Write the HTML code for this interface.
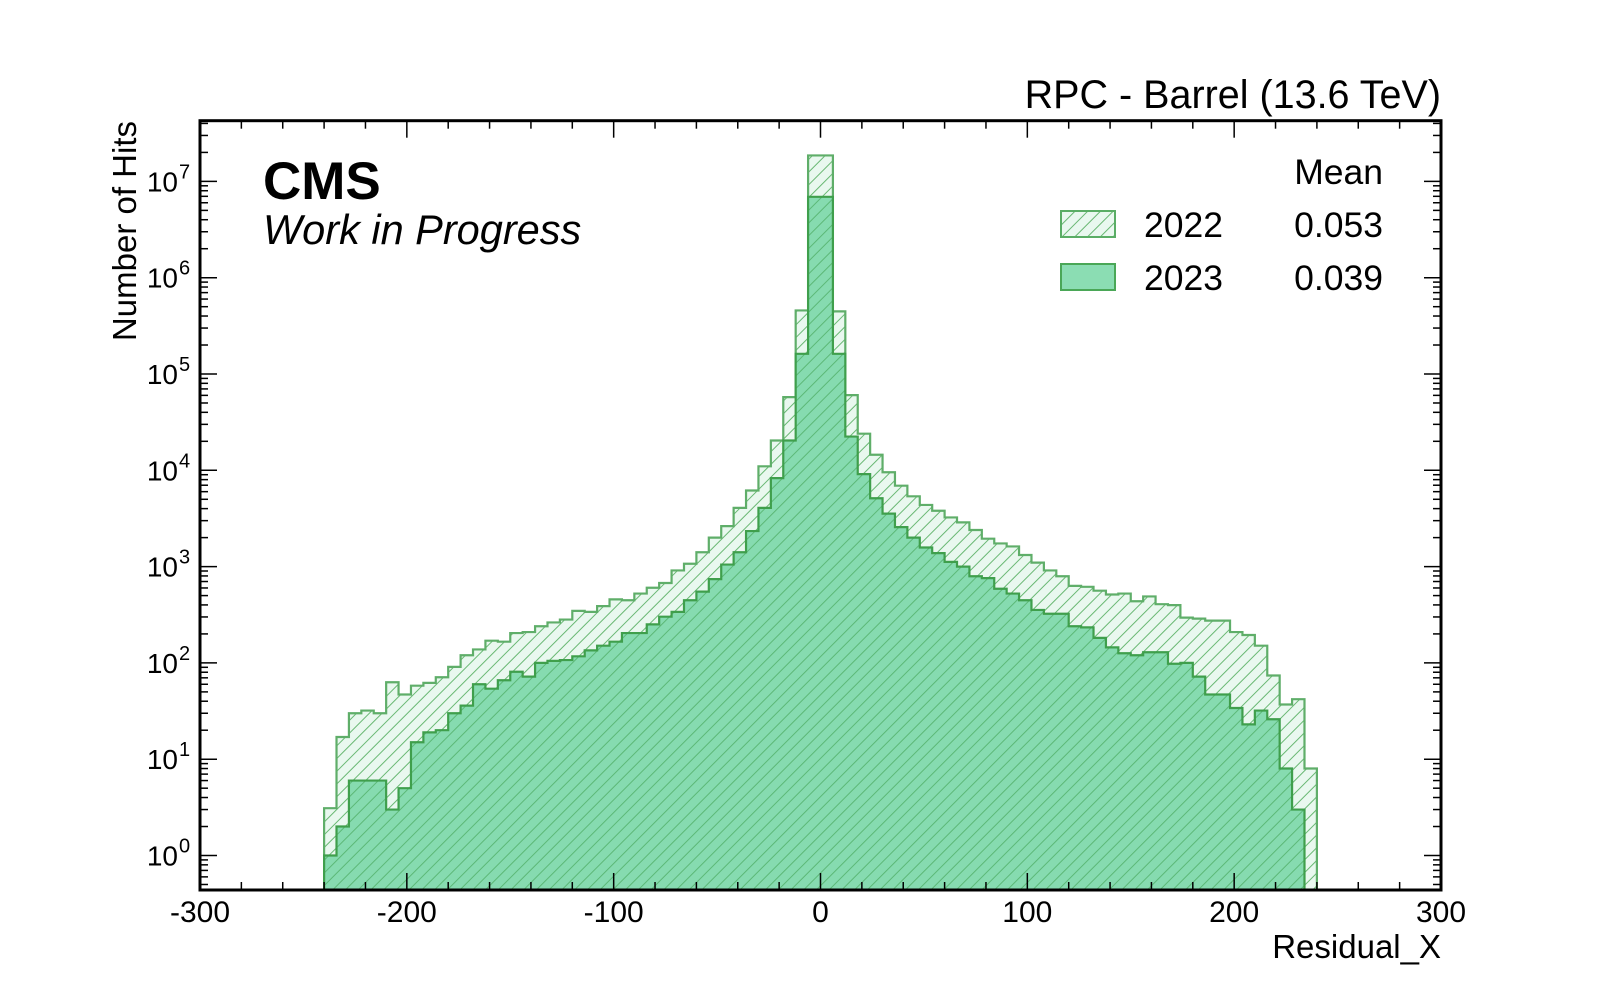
<!DOCTYPE html>
<html><head><meta charset="utf-8"><style>
html,body{margin:0;padding:0;background:#fff;}
svg{display:block;font-family:"Liberation Sans",Arial,sans-serif;}
</style></head><body>
<svg id="chart" width="1600" height="1000" viewBox="0 0 1600 1000" xmlns="http://www.w3.org/2000/svg">
<defs>
<pattern id="hatchLight" patternUnits="userSpaceOnUse" width="9" height="9" patternTransform="rotate(45)">
<rect width="9" height="9" fill="#e9f8ef"/><line x1="0" y1="0" x2="0" y2="9" stroke="#69b873" stroke-width="2"/></pattern>
<pattern id="hatchDark" patternUnits="userSpaceOnUse" width="9" height="9" patternTransform="rotate(45)">
<rect width="9" height="9" fill="#86dbb0"/><line x1="0" y1="0" x2="0" y2="9" stroke="#5cb877" stroke-width="2"/></pattern>
</defs>
<g id="marks"></g>
<g id="axes"></g>
<text x="1441" y="108" text-anchor="end" font-size="39.5">RPC - Barrel (13.6 TeV)</text>
<text x="263" y="199" font-size="53" font-weight="bold">CMS</text>
<text x="263" y="244" font-size="41.5" font-style="italic">Work in Progress</text>
<text transform="translate(136,121) rotate(-90)" text-anchor="end" font-size="33">Number of Hits</text>
<text x="1441" y="958" text-anchor="end" font-size="33">Residual_X</text>
<g font-size="35.5">
<text x="1383" y="184" text-anchor="end">Mean</text>
<rect x="1061" y="211" width="54" height="26" fill="url(#hatchLight)" stroke="#5aad65" stroke-width="2"/>
<text x="1144" y="237">2022</text>
<text x="1383" y="237" text-anchor="end">0.053</text>
<rect x="1061" y="264" width="54" height="26" fill="#8bddb3" stroke="#4aa757" stroke-width="2"/>
<text x="1144" y="290">2023</text>
<text x="1383" y="290" text-anchor="end">0.039</text>
</g>
</svg>
<script>
const binEdgesStart = -240;
const binWidth = 6;
const counts2022 = [3.1,17,30,32,30,63,47,58,62,71,91,120,138,170,166,204,209,240,263,282,347,339,389,457,447,525,603,676,912,1070,1410,2000,2630,4070,6170,11000,20400,57500,457000,18600000,18600000,447000,60300,24000,14500,9550,6920,5370,4370,3800,3240,2880,2400,1950,1740,1620,1320,1100,912,794,631,617,562,513,525,437,490,407,398,295,288,275,275,209,195,151,74,37,42,8];
const counts2023 = [1,2,6,6,6,3,5,15,19,20,30,36,60,54,66,81,72,100,105,107,117,135,151,166,204,204,251,302,339,447,550,741,1050,1410,2340,4070,8300,20400,162000,6920000,6920000,162000,22400,9120,5130,3550,2570,2000,1580,1380,1120,1000,794,759,589,525,447,355,324,324,240,234,182,145,126,120,129,129,98,100,72,47,47,34,23,32,26,8,3,0];
const xTicks = [-300,-200,-100,0,100,200,300];
const yTickExps = [0,1,2,3,4,5,6,7];

const NS = "http://www.w3.org/2000/svg";
const L = 200, R = 1441, T = 120.7, B = 890;
const xMin = -300, xMax = 300;
const y0 = 855.5, dec = 96.3;
function xs(v){ return L + (v - xMin) / (xMax - xMin) * (R - L); }
function ys(v){ if (v <= 0) return B; return Math.min(B, y0 - dec * Math.log10(v)); }
function mk(tag, attrs, parent){ const e = document.createElementNS(NS, tag); for (const k in attrs) e.setAttribute(k, attrs[k]); parent.appendChild(e); return e; }

const marks = document.getElementById('marks');
function stepPath(counts){
  let d = "M" + xs(binEdgesStart) + "," + B;
  for (let i = 0; i < counts.length; i++) {
    const x0 = xs(binEdgesStart + i * binWidth), x1 = xs(binEdgesStart + (i + 1) * binWidth);
    const y = ys(counts[i]);
    d += " L" + x0 + "," + y + " L" + x1 + "," + y;
  }
  d += " L" + xs(binEdgesStart + counts.length * binWidth) + "," + B;
  return d;
}
const p22 = mk('path', {d: stepPath(counts2022), fill: "url(#hatchLight)", stroke: "#5fae69", "stroke-width": 2.2, "stroke-linejoin": "miter"}, marks);


const p23 = mk('path', {d: stepPath(counts2023), fill: "url(#hatchDark)", stroke: "#3f9f4c", "stroke-width": 2.2, "stroke-linejoin": "miter"}, marks);



const axes = document.getElementById('axes');
const frame = mk('rect', {x: L, y: T, width: R - L, height: B - T, fill: "none", stroke: "#000", "stroke-width": 3}, axes);



for (let v = -300; v <= 300; v += 20) {
  const x = xs(v);
  const major = (v % 100 === 0);
  const len = major ? 17 : 8;
  const tb = mk('line', {x1: x, x2: x, y1: B, y2: B - len, stroke: "#000", "stroke-width": 1.5}, axes);
  
  
  const tt = mk('line', {x1: x, x2: x, y1: T, y2: T + len, stroke: "#000", "stroke-width": 1.5}, axes);
  
  
}
xTicks.forEach(v => {
  const t = mk('text', {x: xs(v), y: 922, "text-anchor": "middle", "font-size": 30}, axes);
  t.textContent = String(v);
  
  
});
for (let e = -1; e <= 7; e++) {
  for (let m = 1; m <= 9; m++) {
    const v = m * Math.pow(10, e);
    const y = y0 - dec * Math.log10(v);
    if (y > B || y < T) continue;
    const len = m === 1 ? 17 : 8;
    const tl = mk('line', {x1: L, x2: L + len, y1: y, y2: y, stroke: "#000", "stroke-width": 1.5}, axes);
    
    
    const tr = mk('line', {x1: R, x2: R - len, y1: y, y2: y, stroke: "#000", "stroke-width": 1.5}, axes);
    
    
  }
}
yTickExps.forEach(e => {
  const y = y0 - dec * e;
  const t = mk('text', {x: 178, y: y + 10, "text-anchor": "end", "font-size": 28}, axes);
  t.textContent = "10";
  
  
  const s = mk('text', {x: 179, y: y - 3, "text-anchor": "start", "font-size": 20}, axes);
  s.textContent = String(e);
  
  
});
</script>
</body></html>
